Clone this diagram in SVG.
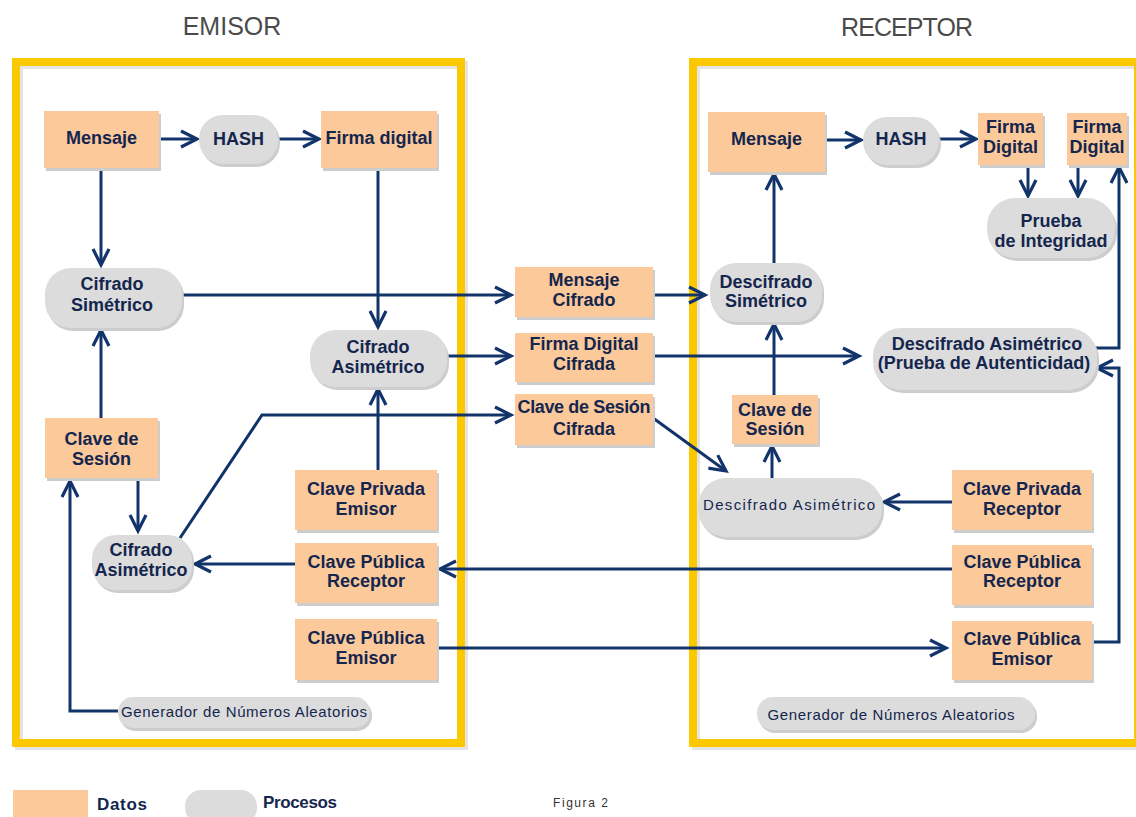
<svg xmlns="http://www.w3.org/2000/svg" width="1136" height="817" viewBox="0 0 1136 817">
  <style>
    .frame { fill: none; stroke: #fcc800; stroke-width: 8; }
    .frame-sh { fill: none; stroke: #e4e4e4; stroke-width: 8; }
    .data { fill: #fcc99b; }
    .proc { fill: #dcdcdc; }
    .sh { fill: #cdcdcd; }
    .lbl { font-family: "Liberation Sans", Arial, sans-serif; font-weight: bold; font-size: 18px; fill: #14264d; text-anchor: middle; }
    .lbl-thin { font-family: "Liberation Sans", Arial, sans-serif; font-weight: normal; font-size: 15px; fill: #14264d; text-anchor: middle; }
    .title { font-family: "Liberation Sans", Arial, sans-serif; font-weight: normal; font-size: 25px; fill: #4a4a4a; text-anchor: middle; }
    .conn { fill: none; stroke: #12346b; stroke-width: 3; stroke-linejoin: miter; marker-end: url(#arr); }
    .legend { font-family: "Liberation Sans", Arial, sans-serif; font-weight: bold; font-size: 17px; fill: #14264d; }
    .caption { font-family: "Liberation Sans", Arial, sans-serif; font-size: 12px; fill: #333333; }
  </style>
  <defs>
    <!-- open chevron arrowhead shared by every connector -->
    <marker id="arr" markerUnits="userSpaceOnUse" markerWidth="26" markerHeight="26" viewBox="-20 -13 26 26" refX="0" refY="0" orient="auto" overflow="visible">
      <path d="M-16,-8 L0,0 L-16,8" fill="none" stroke="#12346b" stroke-width="3.2"/>
    </marker>
  </defs>

  <rect width="1136" height="817" fill="#ffffff"/>

  <!-- side titles -->
  <text class="title" x="232" y="35">EMISOR</text>
  <text class="title" x="907" y="36" textLength="132">RECEPTOR</text>

  <!-- sender / receiver frames -->
  <rect class="frame-sh" x="19" y="65" width="445" height="681"/>
  <rect class="frame" x="16" y="62" width="445" height="681"/>
  <rect class="frame-sh" x="696" y="65" width="445" height="681"/>
  <rect class="frame" x="693" y="62" width="445" height="681"/>

  <!-- connectors -->
  <g id="connectors">
    <line class="conn" x1="159" y1="139" x2="197" y2="139"/>
    <line class="conn" x1="278" y1="139" x2="319" y2="139"/>
    <line class="conn" x1="101" y1="168" x2="101" y2="265"/>
    <line class="conn" x1="378" y1="168" x2="378" y2="327"/>
    <line class="conn" x1="182" y1="295" x2="511" y2="295"/>
    <line class="conn" x1="447" y1="356" x2="511" y2="356"/>
    <polyline class="conn" points="180,538 262,415 511,415"/>
    <line class="conn" x1="378" y1="470" x2="378" y2="389"/>
    <line class="conn" x1="101" y1="418" x2="101" y2="330"/>
    <line class="conn" x1="138" y1="478" x2="138" y2="531"/>
    <line class="conn" x1="295" y1="564" x2="195" y2="564"/>
    <polyline class="conn" points="118,711 70,711 70,481"/>
    <line class="conn" x1="437" y1="648" x2="946" y2="648"/>
    <line class="conn" x1="653" y1="295" x2="705" y2="295"/>
    <line class="conn" x1="653" y1="356" x2="859" y2="356"/>
    <line class="conn" x1="653" y1="418" x2="726" y2="471"/>
    <line class="conn" x1="774" y1="395" x2="774" y2="324"/>
    <line class="conn" x1="772" y1="478" x2="772" y2="446"/>
    <line class="conn" x1="774" y1="263" x2="774" y2="174"/>
    <line class="conn" x1="825" y1="140" x2="861" y2="140"/>
    <line class="conn" x1="939" y1="139" x2="976" y2="139"/>
    <line class="conn" x1="1028" y1="165" x2="1028" y2="196"/>
    <line class="conn" x1="1078" y1="165" x2="1078" y2="196"/>
    <polyline class="conn" points="1088,348 1119,348 1119,167"/>
    <polyline class="conn" points="1092,642 1119,642 1119,368 1097,368"/>
    <line class="conn" x1="952" y1="502" x2="884" y2="502"/>
    <line class="conn" x1="952" y1="569" x2="440" y2="569"/>
  </g>

  <!-- EMISOR nodes -->
  <g id="e_mensaje">
    <rect class="sh" x="46" y="114" width="115" height="57"/>
    <rect class="data" x="44" y="111" width="115" height="57"/>
    <text class="lbl" x="101.5" y="144">Mensaje</text>
  </g>
  <g id="e_hash">
    <rect class="sh" x="201" y="118" width="79" height="49" rx="24"/>
    <rect class="proc" x="199" y="115" width="79" height="49" rx="24"/>
    <text class="lbl" x="238.5" y="145">HASH</text>
  </g>
  <g id="e_firma">
    <rect class="sh" x="323" y="114" width="116" height="57"/>
    <rect class="data" x="321" y="111" width="116" height="57"/>
    <text class="lbl" x="379" y="144">Firma digital</text>
  </g>
  <g id="e_cifrado_simetrico">
    <rect class="sh" x="47" y="271" width="137" height="60" rx="26"/>
    <rect class="proc" x="45" y="268" width="137" height="60" rx="26"/>
    <text class="lbl" x="112" y="290">Cifrado</text>
    <text class="lbl" x="112" y="311">Simétrico</text>
  </g>
  <g id="e_cifrado_asimetrico_1">
    <rect class="sh" x="312" y="333" width="137" height="57" rx="26"/>
    <rect class="proc" x="310" y="330" width="137" height="57" rx="26"/>
    <text class="lbl" x="378" y="353">Cifrado</text>
    <text class="lbl" x="378" y="373">Asimétrico</text>
  </g>
  <g id="e_clave_sesion">
    <rect class="sh" x="47" y="421" width="113" height="60"/>
    <rect class="data" x="45" y="418" width="113" height="60"/>
    <text class="lbl" x="101.5" y="445">Clave de</text>
    <text class="lbl" x="101.5" y="465">Sesión</text>
  </g>
  <g id="e_clave_privada">
    <rect class="sh" x="297" y="473" width="142" height="60"/>
    <rect class="data" x="295" y="470" width="142" height="60"/>
    <text class="lbl" x="366" y="495">Clave Privada</text>
    <text class="lbl" x="366" y="515">Emisor</text>
  </g>
  <g id="e_cifrado_asimetrico_2">
    <rect class="sh" x="94" y="538" width="100" height="55" rx="24"/>
    <rect class="proc" x="92" y="535" width="100" height="55" rx="24"/>
    <text class="lbl" x="141" y="556">Cifrado</text>
    <text class="lbl" x="141" y="576">Asimétrico</text>
  </g>
  <g id="e_clave_publica_receptor">
    <rect class="sh" x="297" y="546" width="142" height="60"/>
    <rect class="data" x="295" y="543" width="142" height="60"/>
    <text class="lbl" x="366" y="568">Clave Pública</text>
    <text class="lbl" x="366" y="587">Receptor</text>
  </g>
  <g id="e_clave_publica_emisor">
    <rect class="sh" x="297" y="622" width="142" height="61"/>
    <rect class="data" x="295" y="619" width="142" height="61"/>
    <text class="lbl" x="366" y="644">Clave Pública</text>
    <text class="lbl" x="366" y="664">Emisor</text>
  </g>
  <g id="e_generador">
    <rect class="sh" x="120" y="700" width="252" height="31" rx="15"/>
    <rect class="proc" x="118" y="697" width="252" height="31" rx="15"/>
    <text class="lbl-thin" x="244" y="717" textLength="246">Generador de Números Aleatorios</text>
  </g>

  <!-- transmitted data -->
  <g id="mensaje_cifrado">
    <rect class="sh" x="517" y="270" width="138" height="50"/>
    <rect class="data" x="515" y="267" width="138" height="50"/>
    <text class="lbl" x="584" y="286">Mensaje</text>
    <text class="lbl" x="584" y="306">Cifrado</text>
  </g>
  <g id="firma_digital_cifrada">
    <rect class="sh" x="517" y="336" width="138" height="49"/>
    <rect class="data" x="515" y="333" width="138" height="49"/>
    <text class="lbl" x="584" y="350">Firma Digital</text>
    <text class="lbl" x="584" y="370">Cifrada</text>
  </g>
  <g id="clave_sesion_cifrada">
    <rect class="sh" x="517" y="397" width="138" height="51"/>
    <rect class="data" x="515" y="394" width="138" height="51"/>
    <text class="lbl" x="584" y="413" textLength="133">Clave de Sesión</text>
    <text class="lbl" x="584" y="435">Cifrada</text>
  </g>

  <!-- RECEPTOR nodes -->
  <g id="r_mensaje">
    <rect class="sh" x="710" y="115" width="117" height="60"/>
    <rect class="data" x="708" y="112" width="117" height="60"/>
    <text class="lbl" x="766.5" y="145">Mensaje</text>
  </g>
  <g id="r_hash">
    <rect class="sh" x="865" y="120" width="76" height="48" rx="24"/>
    <rect class="proc" x="863" y="117" width="76" height="48" rx="24"/>
    <text class="lbl" x="901" y="145">HASH</text>
  </g>
  <g id="r_firma_digital_1">
    <rect class="sh" x="980" y="116" width="65" height="52"/>
    <rect class="data" x="978" y="113" width="65" height="52"/>
    <text class="lbl" x="1010.5" y="133">Firma</text>
    <text class="lbl" x="1010.5" y="153">Digital</text>
  </g>
  <g id="r_firma_digital_2">
    <rect class="sh" x="1069" y="116" width="60" height="52"/>
    <rect class="data" x="1067" y="113" width="60" height="52"/>
    <text class="lbl" x="1097" y="133">Firma</text>
    <text class="lbl" x="1097" y="153">Digital</text>
  </g>
  <g id="r_prueba_integridad">
    <rect class="sh" x="989" y="201" width="128" height="60" rx="28"/>
    <rect class="proc" x="987" y="198" width="128" height="60" rx="28"/>
    <text class="lbl" x="1051" y="227">Prueba</text>
    <text class="lbl" x="1051" y="247">de Integridad</text>
  </g>
  <g id="r_descifrado_simetrico">
    <rect class="sh" x="712" y="266" width="112" height="59" rx="26"/>
    <rect class="proc" x="710" y="263" width="112" height="59" rx="26"/>
    <text class="lbl" x="766" y="288">Descifrado</text>
    <text class="lbl" x="766" y="307">Simétrico</text>
  </g>
  <g id="r_descifrado_asimetrico_autenticidad">
    <rect class="sh" x="875" y="331" width="224" height="62" rx="28"/>
    <rect class="proc" x="873" y="328" width="224" height="62" rx="28"/>
    <text class="lbl" x="987" y="350">Descifrado Asimétrico</text>
    <text class="lbl" x="984" y="369">(Prueba de Autenticidad)</text>
  </g>
  <g id="r_clave_sesion">
    <rect class="sh" x="734" y="398" width="86" height="49"/>
    <rect class="data" x="732" y="395" width="86" height="49"/>
    <text class="lbl" x="775" y="416">Clave de</text>
    <text class="lbl" x="775" y="435">Sesión</text>
  </g>
  <g id="r_descifrado_asimetrico">
    <rect class="sh" x="700" y="481" width="184" height="59" rx="28"/>
    <rect class="proc" x="698" y="478" width="184" height="59" rx="28"/>
    <text class="lbl-thin" x="789" y="510" textLength="172">Descifrado Asimétrico</text>
  </g>
  <g id="r_clave_privada">
    <rect class="sh" x="954" y="473" width="140" height="60"/>
    <rect class="data" x="952" y="470" width="140" height="60"/>
    <text class="lbl" x="1022" y="495">Clave Privada</text>
    <text class="lbl" x="1022" y="515">Receptor</text>
  </g>
  <g id="r_clave_publica_receptor">
    <rect class="sh" x="954" y="548" width="140" height="60"/>
    <rect class="data" x="952" y="545" width="140" height="60"/>
    <text class="lbl" x="1022" y="568">Clave Pública</text>
    <text class="lbl" x="1022" y="587">Receptor</text>
  </g>
  <g id="r_clave_publica_emisor">
    <rect class="sh" x="954" y="624" width="140" height="59"/>
    <rect class="data" x="952" y="621" width="140" height="59"/>
    <text class="lbl" x="1022" y="645">Clave Pública</text>
    <text class="lbl" x="1022" y="665">Emisor</text>
  </g>
  <g id="r_generador">
    <rect class="sh" x="759" y="700" width="278" height="33" rx="16"/>
    <rect class="proc" x="757" y="697" width="278" height="33" rx="16"/>
    <text class="lbl-thin" x="891" y="720" textLength="247">Generador de Números Aleatorios</text>
  </g>

  <!-- legend -->
  <g id="legend">
    <rect class="data" x="13" y="790" width="75" height="30"/>
    <text class="legend" x="97" y="810" textLength="50">Datos</text>
    <rect class="proc" x="185" y="790" width="72" height="34" rx="16"/>
    <text class="legend" x="263" y="808" textLength="74">Procesos</text>
    <text class="caption" x="553" y="807" textLength="55">Figura 2</text>
  </g>
</svg>
